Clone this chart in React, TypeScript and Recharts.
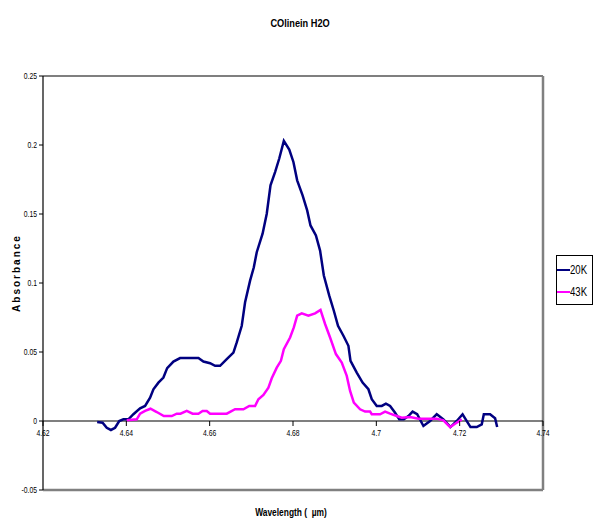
import React from 'react';
import { LineChart, Line, XAxis, YAxis, ReferenceLine, Legend } from 'recharts';

// 20K series (wavelength in µm, absorbance)
const W20 = [4.6330, 4.6343, 4.6353, 4.6363, 4.6373, 4.6383, 4.6393, 4.6405, 4.6417, 4.6433, 4.6445, 4.6457, 4.6465, 4.6477, 4.6489, 4.6498, 4.6513, 4.6529, 4.6553, 4.6573, 4.6585, 4.6601, 4.6613, 4.6625, 4.6641, 4.6657, 4.6665, 4.6677, 4.6685, 4.6697, 4.6706, 4.6713, 4.6727, 4.6737, 4.6746, 4.6757, 4.6767, 4.6778, 4.6791, 4.6801, 4.6810, 4.6823, 4.6834, 4.6842, 4.6855, 4.6865, 4.6874, 4.6887, 4.6898, 4.6908, 4.6921, 4.6933, 4.6938, 4.6953, 4.6967, 4.6981, 4.6989, 4.7001, 4.7013, 4.7023, 4.7033, 4.7045, 4.7055, 4.7066, 4.7077, 4.7087, 4.7098, 4.7113, 4.7129, 4.7145, 4.7161, 4.7178, 4.7193, 4.7207, 4.7226, 4.7241, 4.7253, 4.7258, 4.7273, 4.7285, 4.7290];
const A20 = [-0.0007, -0.0012, -0.0049, -0.0065, -0.0049, 0.0000, 0.0012, 0.0012, 0.0049, 0.0092, 0.0109, 0.0169, 0.0230, 0.0278, 0.0315, 0.0383, 0.0431, 0.0456, 0.0456, 0.0456, 0.0431, 0.0419, 0.0400, 0.0400, 0.0448, 0.0496, 0.0569, 0.0690, 0.0860, 0.1017, 0.1114, 0.1223, 0.1357, 0.1502, 0.1708, 0.1804, 0.1902, 0.2030, 0.1967, 0.1877, 0.1744, 0.1635, 0.1526, 0.1417, 0.1344, 0.1235, 0.1054, 0.0908, 0.0799, 0.0690, 0.0618, 0.0545, 0.0436, 0.0351, 0.0278, 0.0230, 0.0158, 0.0109, 0.0109, 0.0126, 0.0109, 0.0060, 0.0012, 0.0012, 0.0036, 0.0068, 0.0049, -0.0036, 0.0000, 0.0049, 0.0012, -0.0044, 0.0000, 0.0049, -0.0044, -0.0044, -0.0024, 0.0049, 0.0049, 0.0020, -0.0044];

// 43K series
const W43 = [4.6401, 4.6425, 4.6433, 4.6445, 4.6458, 4.6473, 4.6490, 4.6509, 4.6521, 4.6530, 4.6545, 4.6559, 4.6573, 4.6583, 4.6593, 4.6601, 4.6617, 4.6641, 4.6661, 4.6681, 4.6695, 4.6709, 4.6717, 4.6729, 4.6741, 4.6749, 4.6761, 4.6771, 4.6778, 4.6793, 4.6802, 4.6810, 4.6821, 4.6837, 4.6853, 4.6866, 4.6877, 4.6889, 4.6903, 4.6917, 4.6929, 4.6937, 4.6946, 4.6961, 4.6973, 4.6985, 4.6989, 4.7009, 4.7021, 4.7033, 4.7049, 4.7061, 4.7081, 4.7101, 4.7121, 4.7145, 4.7161, 4.7177, 4.7189, 4.7205];
const A43 = [0.0005, 0.0012, 0.0053, 0.0073, 0.0089, 0.0065, 0.0036, 0.0036, 0.0053, 0.0053, 0.0073, 0.0053, 0.0053, 0.0073, 0.0073, 0.0053, 0.0053, 0.0053, 0.0085, 0.0085, 0.0109, 0.0109, 0.0158, 0.0189, 0.0242, 0.0310, 0.0387, 0.0436, 0.0521, 0.0605, 0.0678, 0.0763, 0.0780, 0.0763, 0.0780, 0.0805, 0.0703, 0.0605, 0.0485, 0.0424, 0.0327, 0.0218, 0.0133, 0.0085, 0.0068, 0.0068, 0.0049, 0.0049, 0.0068, 0.0053, 0.0036, 0.0024, 0.0029, 0.0017, 0.0017, 0.0017, 0.0005, -0.0044, -0.0020, 0.0012];

const X_TICKS = [4.62, 4.64, 4.66, 4.68, 4.7, 4.72, 4.74];
const Y_TICKS = [-0.05, 0, 0.05, 0.1, 0.15, 0.2, 0.25];
const SERIES_NAMES = ['20K', '43K'];
const COLORS = ['#000080', '#FF00FF'];

const data20 = W20.map((w, i) => ({ w, a: A20[i] }));
const data43 = W43.map((w, i) => ({ w, a: A43[i] }));

const CHART_W = 594;
const CHART_H = 519;
const TOP = 76;
const LEFT_AXIS_W = 43;
const RIGHT = 51;
const X_AXIS_H = 29;
const PLOT_H = CHART_H - TOP - X_AXIS_H;
const Y_MIN = -0.05;
const Y_MAX = 0.25;
const ZERO_Y = TOP + (PLOT_H * (Y_MAX - 0)) / (Y_MAX - Y_MIN);

const SANS = "'Liberation Sans', Arial, sans-serif";
const NARROW_SCALE = 0.8;

const XTick = (props: any) => {
  const { x, payload } = props;
  return (
    <g>
      <line x1={x} x2={x} y1={ZERO_Y} y2={ZERO_Y + 5} stroke="#000" strokeWidth={1} />
      <text
        transform={`translate(${x},${ZERO_Y + 15}) scale(${NARROW_SCALE},1)`}
        textAnchor="middle"
        fontSize={8.5}
        fontFamily={SANS}
        fill="#000"
      >
        {String(payload.value)}
      </text>
    </g>
  );
};

const YTick = (props: any) => {
  const { x, y, payload } = props;
  return (
    <text
      transform={`translate(${x},${y + 3}) scale(${NARROW_SCALE},1)`}
      textAnchor="end"
      fontSize={8.5}
      fontFamily={SANS}
      fill="#000"
    >
      {String(payload.value)}
    </text>
  );
};

const YLabel = () => (
  <text
    x={16}
    y={273}
    transform="rotate(-90 16 273)"
    textAnchor="middle"
    dominantBaseline="central"
    fontSize={10}
    fontWeight="bold"
    letterSpacing={2}
    fontFamily={SANS}
    fill="#000"
  >
    Absorbance
  </text>
);

const XLabel = () => (
  <text
    transform={`translate(291,516) scale(${NARROW_SCALE},1)`}
    textAnchor="middle"
    fontSize={10.5}
    fontWeight="bold"
    fontFamily={SANS}
    fill="#000"
  >
    {'Wavelength (\u00A0 \u00B5m)'}
  </text>
);

const LegendBox = () => (
  <div
    style={{
      border: '1px solid #000',
      background: '#fff',
      width: 37,
      height: 50,
      boxSizing: 'border-box',
      fontFamily: SANS,
      fontSize: 12,
      color: '#000',
    }}
  >
    {SERIES_NAMES.map((n, i) => (
      <div key={n} style={{ display: 'flex', alignItems: 'center', height: 22, marginTop: i === 0 ? 3 : 0 }}>
        <div style={{ width: 13, height: 2, background: COLORS[i] }} />
        <span style={{ lineHeight: '12px', display: 'inline-block', transform: `scaleX(${NARROW_SCALE})`, transformOrigin: 'left center' }}>{n}</span>
      </div>
    ))}
  </div>
);

export default function App() {
  return (
    <div style={{ position: 'absolute', left: 0, top: 0, width: CHART_W, height: CHART_H, background: '#fff' }}>
      <div
        style={{
          position: 'absolute',
          left: 0,
          top: 13,
          width: 600,
          textAlign: 'center',
          zIndex: 2,
        }}
      >
        <span
          style={{
            display: 'inline-block',
            fontFamily: SANS,
            fontWeight: 'bold',
            fontSize: 11.5,
            color: '#000',
            transform: `scaleX(${NARROW_SCALE})`,
          }}
        >
          COlinein H2O
        </span>
      </div>
      <LineChart
        width={CHART_W}
        height={CHART_H}
        margin={{ top: TOP, right: RIGHT, bottom: 0, left: 0 }}
      >
        <XAxis
          type="number"
          dataKey="w"
          domain={[4.62, 4.74]}
          ticks={X_TICKS}
          allowDataOverflow
          height={X_AXIS_H}
          axisLine={{ stroke: '#808080', strokeWidth: 2.5 }}
          tickLine={false}
          tick={<XTick />}
          interval={0}
          label={<XLabel />}
        />
        <YAxis
          type="number"
          domain={[Y_MIN, Y_MAX]}
          ticks={Y_TICKS}
          allowDataOverflow
          width={LEFT_AXIS_W}
          axisLine={{ stroke: '#000', strokeWidth: 1.2 }}
          tickLine={{ stroke: '#000' }}
          tickSize={4}
          tickMargin={2}
          tick={<YTick />}
          interval={0}
          label={<YLabel />}
        />
        <ReferenceLine y={Y_MAX} stroke="#000" strokeWidth={1.2} />
        <ReferenceLine x={4.74} stroke="#808080" strokeWidth={2.5} />
        <ReferenceLine y={0} stroke="#000" strokeWidth={1.2} />
        <Legend
          layout="vertical"
          align="center"
          verticalAlign="middle"
          content={<LegendBox />}
          wrapperStyle={{ position: 'absolute', left: 556, top: 255, width: 37, height: 50 }}
        />
        <Line
          data={data20}
          dataKey="a"
          name={SERIES_NAMES[0]}
          stroke={COLORS[0]}
          strokeWidth={2.5}
          dot={false}
          activeDot={false}
          isAnimationActive={false}
          type="linear"
        />
        <Line
          data={data43}
          dataKey="a"
          name={SERIES_NAMES[1]}
          stroke={COLORS[1]}
          strokeWidth={2.5}
          dot={false}
          activeDot={false}
          isAnimationActive={false}
          type="linear"
        />
      </LineChart>
    </div>
  );
}
